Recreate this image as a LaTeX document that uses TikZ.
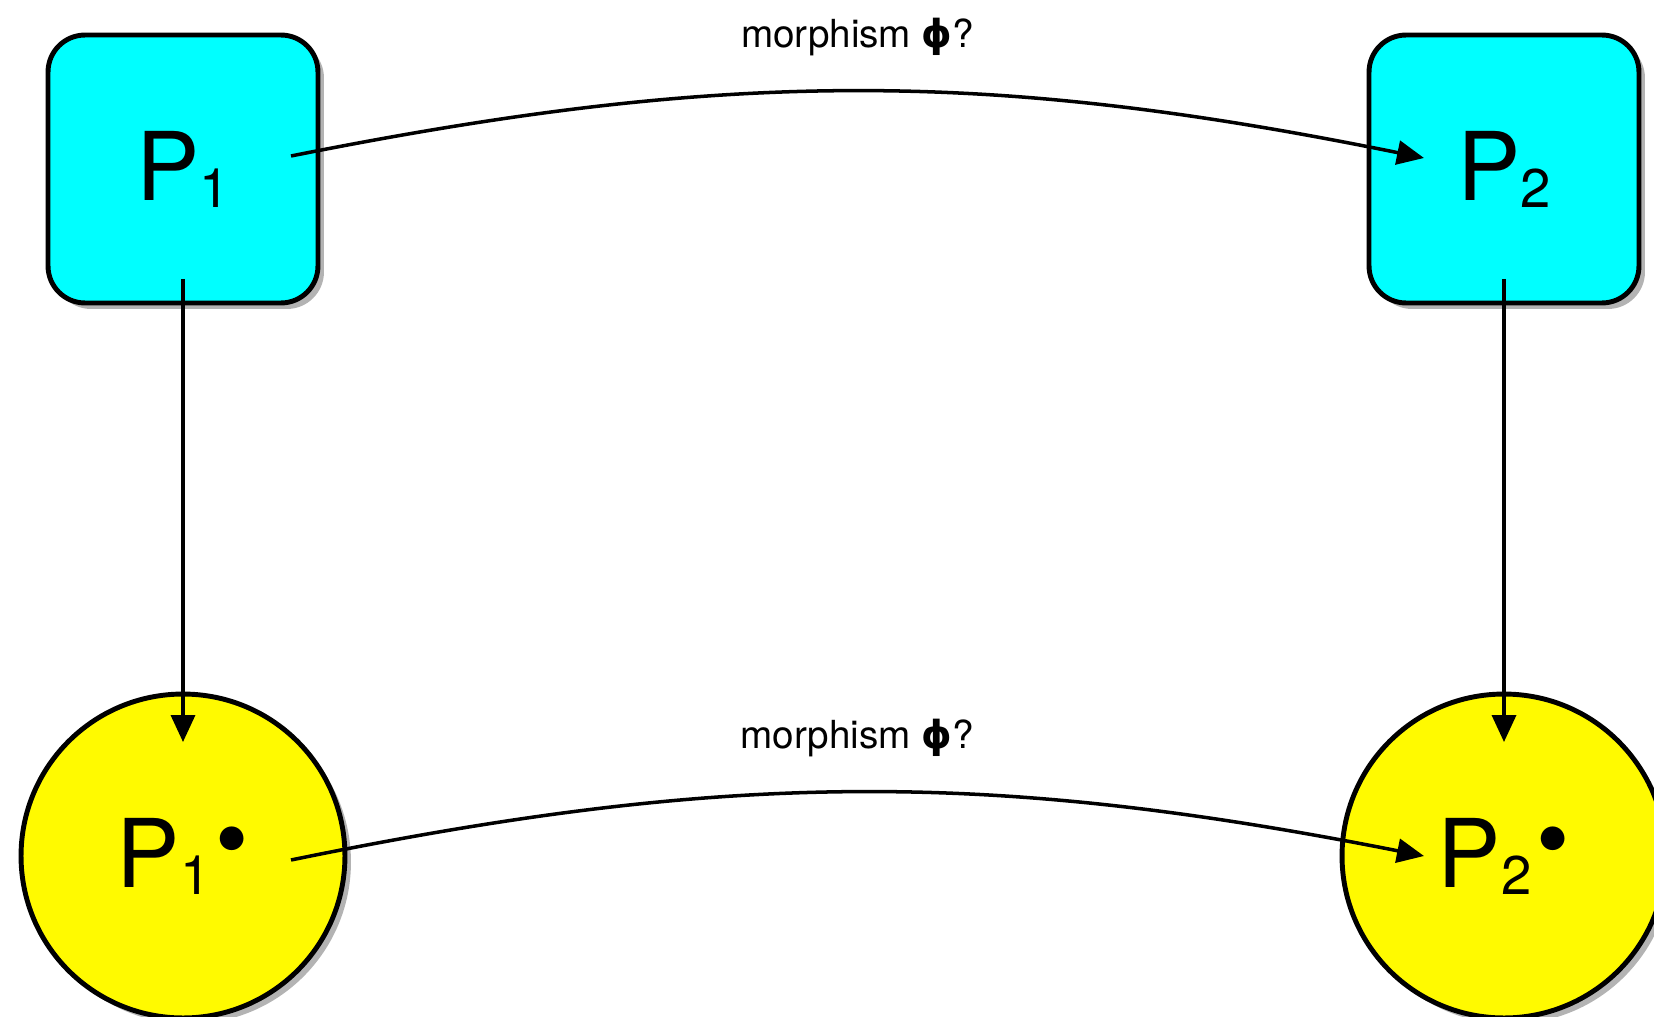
\documentclass[tikz,border=0pt]{standalone}
\usepackage{fontspec}
\setmainfont{TeX Gyre Heros}
\newfontfamily\phifont{DejaVu Sans}
\usetikzlibrary{arrows.meta, positioning, shadows, calc}
\definecolor{boxcyan}{RGB}{0, 255, 255}
\definecolor{dotyellow}{RGB}{255, 250, 0}
\newcommand{\psub}[1]{P\raisebox{-4pt}{\fontsize{31}{31}\selectfont #1}}
\newcommand{\pdot}[1]{\psub{#1}\hspace{3pt}\raisebox{9pt}{•}}
\newcommand{\morph}{morphism {\phifont\bfseries ϕ}?}

\begin{document}
\begin{tikzpicture}[
  x=0.02cm, y=0.02cm,
  sbox/.style={draw=black, line width=2.8pt, fill=boxcyan, rounded corners=0.74cm, minimum width=5.4cm, minimum height=5.36cm, font=\fontsize{54}{54}\selectfont, drop shadow={shadow xshift=0.12cm, shadow yshift=-0.12cm, opacity=0.6}},
  dball/.style={draw=black, line width=2.8pt, fill=dotyellow, circle, minimum size=6.48cm, inner sep=0pt, font=\fontsize{54}{54}\selectfont, drop shadow={shadow xshift=0.12cm, shadow yshift=-0.12cm, opacity=0.6}},
  link/.style={line width=2pt, -{Triangle[length=0.54cm, width=0.48cm]}},
  tag/.style={inner sep=0pt, font=\fontsize{22}{22}\selectfont}
]
  \useasboundingbox (0,0) rectangle (1654,-1017);

  \node[sbox] (box1) at (183,-169) {\psub{1}};
  \node[sbox] (box2) at (1504,-169) {\psub{2}};
  \node[dball] (ball1) at (183,-856) {\pdot{1}};
  \node[dball] (ball2) at (1504,-856) {\pdot{2}};

  % morphisms across
  \draw[link] ($(box1.center)+(108,13)$) to[bend left=11.4]
    node[tag, above=0.68cm] {\morph} ($(box2.center)+(-80,11)$);
  \draw[link] ($(ball1.center)+(108,-4)$) to[bend left=11.4]
    node[tag, above=0.68cm] {\morph} ($(ball2.center)+(-80,0)$);

  % down arrows
  \draw[link, shorten <=2.2cm, shorten >=2.28cm] (box1.center) -- (ball1.center);
  \draw[link, shorten <=2.2cm, shorten >=2.28cm] (box2.center) -- (ball2.center);
\end{tikzpicture}
\end{document}
